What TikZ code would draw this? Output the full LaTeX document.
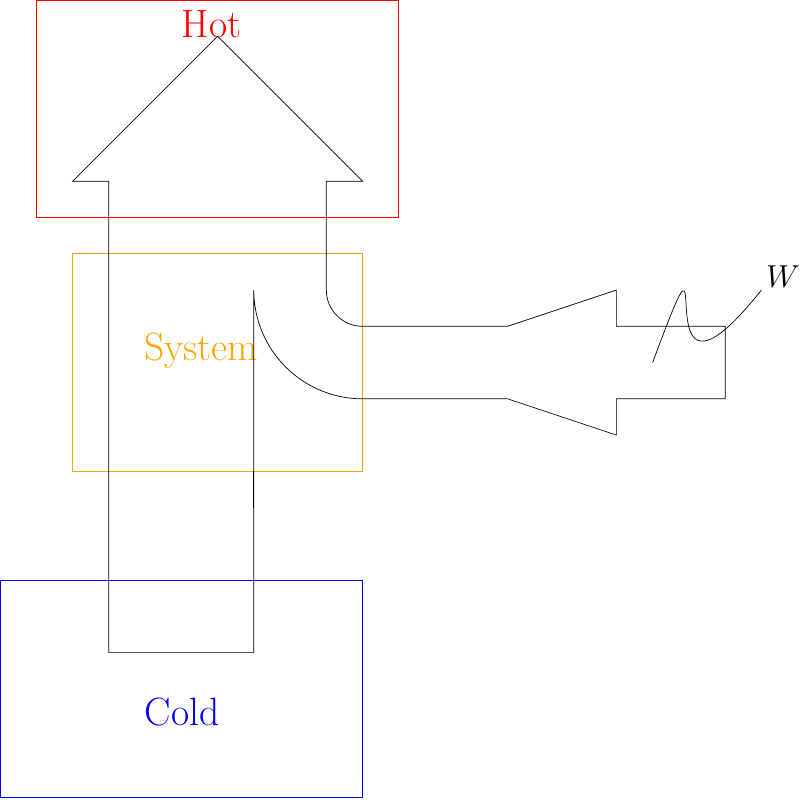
\documentclass[tikz,border=0pt]{standalone}
\usepackage{xcolor}
\definecolor{sysorange}{RGB}{255,165,0}
\begin{document}
\begin{tikzpicture}[x=1cm,y=1cm,
  lbl/.style={font=\fontsize{31}{37}\selectfont, inner sep=0pt},
  flow/.style={draw=black, line width=0.55pt},
  box/.style={line width=0.55pt}]
\useasboundingbox (0,-0.05) rectangle (22.23,22);
% reservoirs
\draw[box, red] (1,16) rectangle (11,22);
\draw[box, sysorange] (2,9) rectangle (10,15);
\draw[box, blue] (0,0) rectangle (10,6);
\node[lbl, text=red] (hot) at (5.83,21.32) {Hot};
\node[lbl, text=sysorange] (sys) at (5.55,12.33) {System};
\node[lbl, text=blue] (cold) at (5.02,2.35) {Cold};
% flow arrow
\draw[flow] (3,4) -- (3,17) -- (2,17) -- (6,21) -- (10,17) -- (9,17) -- (9,14)
  arc (180:270:1) -- (14,13) -- (17,14) -- (17,13) -- (20,13) -- (20,11)
  -- (17,11) -- (17,10) -- (14,11) -- (10,11) arc (270:180:3) -- (7,4) -- (3,4);
\draw[flow] (7,9) -- (7,8);
% work
\coordinate (ws) at (18,12);
\coordinate (we) at (21,14);
\draw[flow] (ws) .. controls (20,17.4) and (17.5,9.6) .. (we);
\node[lbl, anchor=center] (w) at (21.6,14.37) {$W$};
\end{tikzpicture}
\end{document}
